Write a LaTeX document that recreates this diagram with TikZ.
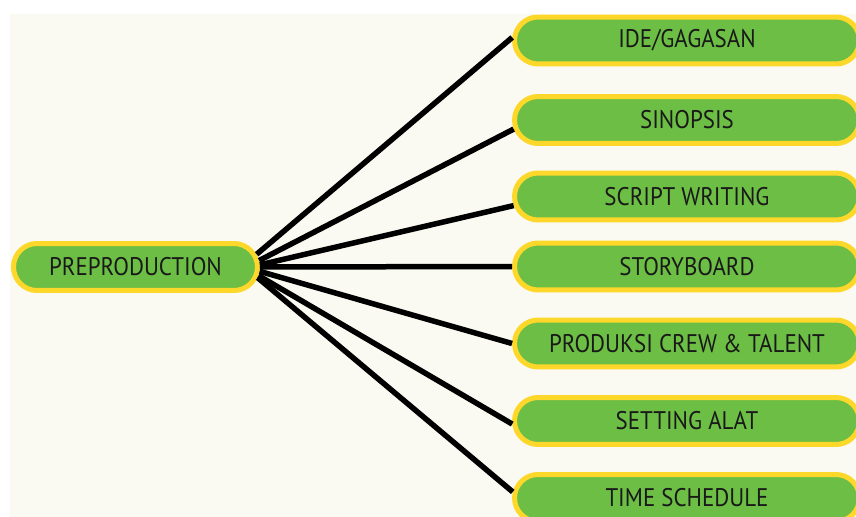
\documentclass[tikz,border=0pt]{standalone}
\usepackage{fontspec}
\setmainfont{PT Sans}[FakeStretch = 0.9]
\usetikzlibrary{shapes.misc}

\definecolor{leaf}{HTML}{6CBE45}
\definecolor{rim}{HTML}{FDD82A}
\definecolor{paper}{HTML}{FAFAF2}

\tikzset{
	pill/.style = {rounded rectangle, draw = rim, line width = 0.1cm, fill = leaf,
		minimum height = 0.94cm, inner sep = 0pt, text = black!90,
		font = \fontsize{14.5}{17}\selectfont},
	branch/.style = {line width = 0.11cm, black}
}

\begin{document}
\begin{tikzpicture}[x = 0.02cm, y = -0.02cm]

	% Page and paper

	\useasboundingbox (0, 0) rectangle (856, 517);
	\fill [white] (0, 0) rectangle (856, 517);
	\fill [paper] (10, 14) rectangle (856, 517);

	% The root

	\node [pill, minimum width = 4.88cm] (pre) at (135.5, 267) {PREPRODUCTION};

	% Seven steps and their branches

	\foreach \n/\txt/\y/\a/\b in {
		s1/{IDE/GAGASAN}/40.5/6/179,
		s2/SINOPSIS/120/3/183,
		s3/SCRIPT WRITING/196.5/1.5/183.5,
		s4/STORYBOARD/266.5/0/180,
		s5/PRODUKSI CREW \& TALENT/343.5/-2/180,
		s6/SETTING ALAT/421/-4/181.3,
		s7/TIME SCHEDULE/498/-5.5/178}
	{
		\node [pill, minimum width = 6.9cm] (\n) at (687, \y) {\txt};
		\draw [branch] (pre.\a) -- (\n.\b);
	}

\end{tikzpicture}
\end{document}
